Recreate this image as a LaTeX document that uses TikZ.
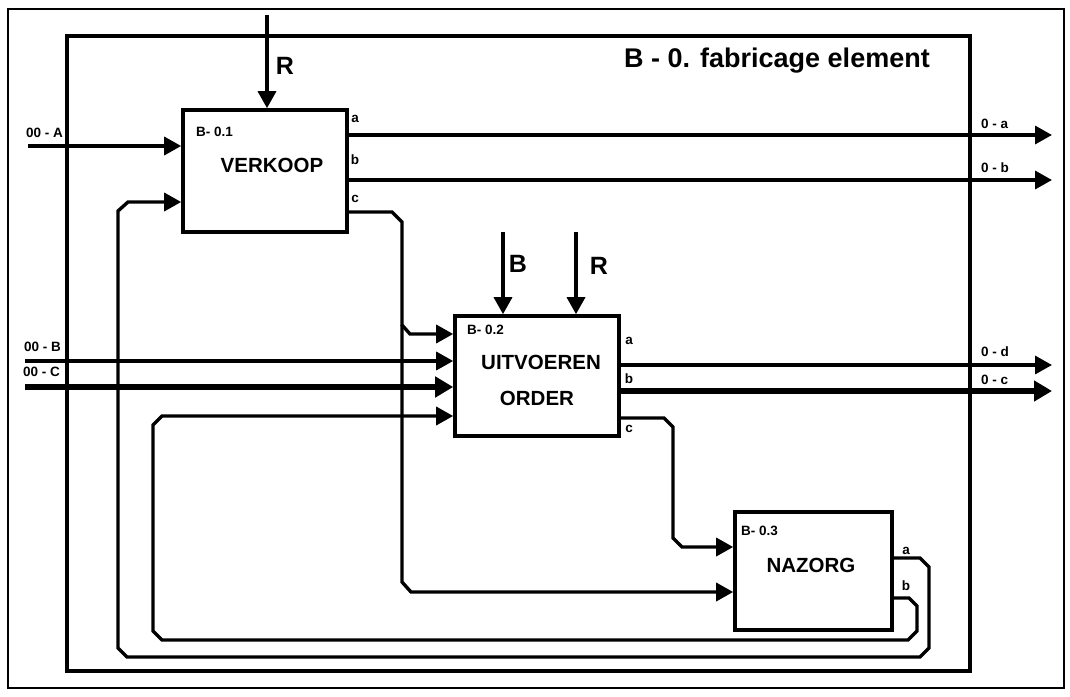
\documentclass[tikz,border=0pt]{standalone}
\usepackage{fontspec}
\setmainfont{Liberation Sans}
\usetikzlibrary{arrows.meta}
\begin{document}
\begin{tikzpicture}[x=1pt,y=-1pt,
  conn/.style={line width=3.4pt},
  arr/.style={conn, -{Triangle[length=17pt,width=18pt]}},
  heavy/.style={line width=6pt, -{Triangle[length=18pt,width=20pt]}},
  box/.style={draw, line width=3.6pt, inner sep=0pt},
  big/.style={font=\fontsize{20.5}{22}\selectfont\bfseries, inner sep=0pt},
  small/.style={font=\fontsize{13.5}{14}\selectfont\bfseries, inner sep=0pt},
  ctl/.style={font=\fontsize{25}{26}\selectfont\bfseries, inner sep=0pt},
  ttl/.style={font=\fontsize{27}{28}\selectfont\bfseries, inner sep=0pt}]
\useasboundingbox (0,0) rectangle (1070,696);
\node[draw, line width=1.5pt, minimum width=1056pt, minimum height=679pt] (page) at (536,348.5) {};
\node[draw, line width=4.5pt, minimum width=903pt, minimum height=635pt] (frame) at (518.5,353.5) {};
\node[ttl] (title) at (777,61) {B - 0. fabricage element};

% boxes
\node[box, minimum width=164pt, minimum height=122pt] (v) at (265,171) {};
\node[box, minimum width=164pt, minimum height=120pt] (u) at (537,376) {};
\node[box, minimum width=157pt, minimum height=118pt] (n) at (813.5,571) {};
\node[big] (vt) at (272,165) {VERKOOP};
\node[big] (ut1) at (541,362) {UITVOEREN};
\node[big] (ut2) at (537,398) {ORDER};
\node[big] (nt) at (811,565) {NAZORG};
\node[small, anchor=west] (vid) at (196,132) {B- 0.1};
\node[small, anchor=west] (uid) at (467,330) {B- 0.2};
\node[small, anchor=west] (nid) at (741,531) {B- 0.3};

% controls
\coordinate (r1) at (267,15);
\draw[arr] (r1) -- (r1 |- v.north);
\node[ctl] (r1l) at (285,66) {R};
\coordinate (b2) at (503,232);
\draw[arr] (b2) -- (b2 |- u.north);
\node[ctl] (b2l) at (518,264) {B};
\coordinate (r2) at (576,232);
\draw[arr] (r2) -- (r2 |- u.north);
\node[ctl] (r2l) at (599,266) {R};

% external inputs
\coordinate (iA) at (28,146);
\draw[arr] (iA) -- (iA -| v.west);
\node[small, anchor=west] (iAl) at (26,133) {00 - A};
\coordinate (iB) at (25,361);
\draw[arr] (iB) -- (iB -| u.west);
\node[small, anchor=west] (iBl) at (24,347) {00 - B};
\coordinate (iC) at (25,387);
\draw[heavy] (iC) -- (iC -| u.west);
\node[small, anchor=west] (iCl) at (23,372) {00 - C};

% external outputs
\coordinate (oa) at (1052,135);
\draw[arr] (oa -| v.east) -- (oa);
\node[small, anchor=west] (oal) at (981,124) {0 - a};
\coordinate (ob) at (1052,180);
\draw[arr] (ob -| v.east) -- (ob);
\node[small, anchor=west] (obl) at (981,168) {0 - b};
\coordinate (od) at (1052,365);
\draw[arr] (od -| u.east) -- (od);
\node[small, anchor=west] (odl) at (981,352) {0 - d};
\coordinate (oc) at (1052,391);
\draw[heavy] (oc -| u.east) -- (oc);
\node[small, anchor=west] (ocl) at (981,380) {0 - c};

% port labels
\node[small] (va) at (355,119) {a};
\node[small] (vb) at (355,160) {b};
\node[small] (vc) at (355,199) {c};
\node[small] (ua) at (629,341) {a};
\node[small] (ub) at (629,379) {b};
\node[small] (uc) at (629,429) {c};
\node[small] (na) at (906,551) {a};
\node[small] (nb) at (906,586) {b};

% internal flows
\coordinate (split) at (402,325);
\draw[arr] (v.east |- 0,212) -- (392,212) -- (402,222) -- (split) -- (410,334) -- (u.west |- 0,334);
\draw[arr] (split) -- (402,582) -- (411,592) -- (n.west |- 0,592);
\draw[arr] (u.east |- 0,418) -- (664,418) -- (673,427) -- (673,538) -- (682,547) -- (n.west |- 0,547);
\draw[arr] (n.east |- 0,558) -- (920,558) -- (929,567) -- (929,648) -- (920,657) -- (127,657) -- (118,648) -- (118,211) -- (128,202) -- (v.west |- 0,202);
\draw[arr] (n.east |- 0,598) -- (909,598) -- (917,606) -- (917,631) -- (908,640) -- (162,640) -- (153,631) -- (153,425) -- (162,416) -- (u.west |- 0,416);
\end{tikzpicture}
\end{document}
